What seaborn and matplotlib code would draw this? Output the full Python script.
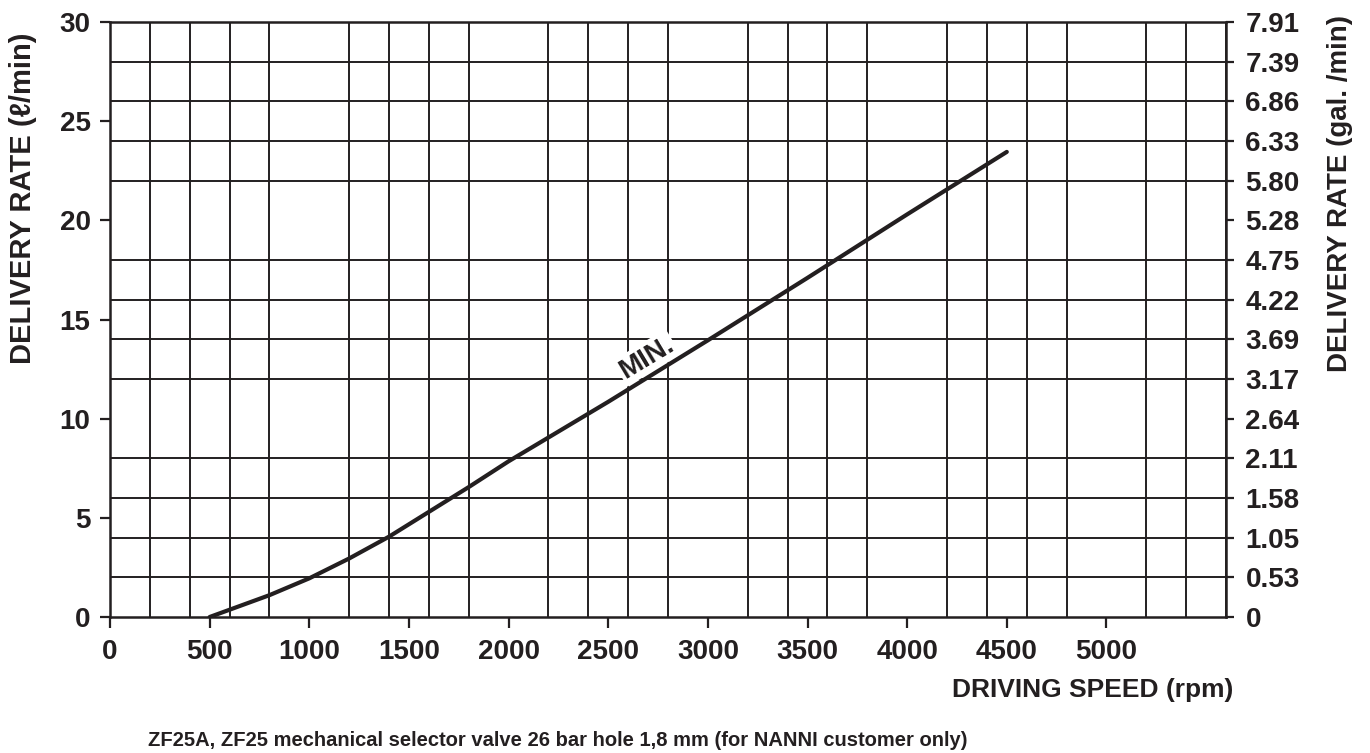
import matplotlib
matplotlib.use("Agg")
import matplotlib.pyplot as plt
import seaborn as sns
import pandas as pd
import numpy as np

# ---- data ----
speed_rpm = [500, 800, 1000, 1200, 1400, 1600, 1800, 2000, 2500, 3000, 3500, 4000, 4500]
rate_lpm = [0.0, 1.1, 1.95, 2.95, 4.05, 5.3, 6.55, 7.85, 10.85, 13.95, 17.1, 20.3, 23.45]
x_ticks = [0, 500, 1000, 1500, 2000, 2500, 3000, 3500, 4000, 4500, 5000]
y_ticks_left = [0, 5, 10, 15, 20, 25, 30]
y_ticks_right = list(range(0, 31, 2))
y_right_labels = ["0", "0.53", "1.05", "1.58", "2.11", "2.64", "3.17", "3.69",
                  "4.22", "4.75", "5.28", "5.80", "6.33", "6.86", "7.39", "7.91"]
curve_label = "MIN."
x_label = "DRIVING SPEED (rpm)"
y_label_left = "DELIVERY RATE (\u2113/min)"
y_label_right = "DELIVERY RATE (gal. /min)"
footnote = "ZF25A, ZF25 mechanical selector valve 26 bar hole 1,8 mm (for NANNI customer only)"

df = pd.DataFrame({"speed": speed_rpm, "rate": rate_lpm})

sns.set_style("white")
plt.rcParams["font.family"] = ["Liberation Sans", "DejaVu Sans"]
INK = "#231f20"
narrow = ["Liberation Sans Narrow", "DejaVu Sans Condensed", "Liberation Sans", "DejaVu Sans"]

fig = plt.figure(figsize=(13.70, 7.53), dpi=100)
ax = fig.add_axes([110 / 1370, 1 - 617 / 753, (1226 - 110) / 1370, (617 - 22) / 753])

sns.lineplot(data=df, x="speed", y="rate", ax=ax, color=INK, linewidth=3.0,
             zorder=4, sort=True)

ax.set_xlim(0, 5600)
ax.set_ylim(0, 30)
ax.set_xticks(x_ticks)
ax.set_xticklabels([str(v) for v in x_ticks])
ax.set_yticks(y_ticks_left)
ax.set_yticklabels([str(v) for v in y_ticks_left])
ax.set_xticks(np.arange(0, 5601, 200), minor=True)
ax.set_yticks(np.arange(0, 31, 2), minor=True)
ax.grid(False)
ax.grid(which="minor", color=INK, linewidth=1.4, zorder=1)
ax.set_axisbelow(True)
ax.tick_params(which="minor", length=0)
ax.tick_params(which="major", axis="x", direction="out", length=8, width=1.6,
               color=INK, pad=8, bottom=True)
ax.tick_params(which="major", axis="y", direction="out", length=7, width=1.6,
               color=INK, pad=7, left=True)
for lab in ax.get_xticklabels() + ax.get_yticklabels():
    lab.set_family(narrow)
    lab.set_fontweight("bold")
    lab.set_fontsize(20)
    lab.set_color(INK)
ax.set_xlabel("")
ax.set_ylabel("")
for s in ax.spines.values():
    s.set_visible(True)
    s.set_color(INK)
    s.set_linewidth(1.8)

ax2 = ax.twinx()
ax2.set_ylim(0, 30)
ax2.set_yticks(y_ticks_right)
ax2.set_yticklabels(y_right_labels)
ax2.tick_params(axis="y", direction="out", length=6, width=1.6, color=INK, pad=8,
                right=True)
for lab in ax2.get_yticklabels():
    lab.set_family(narrow)
    lab.set_fontweight("bold")
    lab.set_fontsize(20)
    lab.set_color(INK)
for s in ax2.spines.values():
    s.set_visible(False)

ax.text(2692, 13.07, curve_label, rotation=31, rotation_mode="anchor",
        ha="center", va="center", fontsize=20, fontweight="bold", color=INK,
        zorder=3, bbox=dict(facecolor="white", edgecolor="none", pad=1.5))

fig.text(1233 / 1370, 1 - 690 / 753, x_label, ha="right", va="center",
         fontsize=19, fontweight="bold", color=INK)
fig.text(23 / 1370, 1 - 33 / 753, y_label_left, rotation=90, ha="center", va="top",
         fontsize=21, fontweight="bold", color=INK,
         family=["Liberation Sans", "DejaVu Sans"])
fig.text(1340 / 1370, 1 - 15 / 753, y_label_right, rotation=90, ha="center", va="top",
         fontsize=20, fontweight="bold", color=INK)
fig.text(148 / 1370, 1 - 740 / 753, footnote, ha="left", va="center",
         fontsize=14.5, fontweight="bold", color=INK)

fig.savefig("out.png", dpi=100)
